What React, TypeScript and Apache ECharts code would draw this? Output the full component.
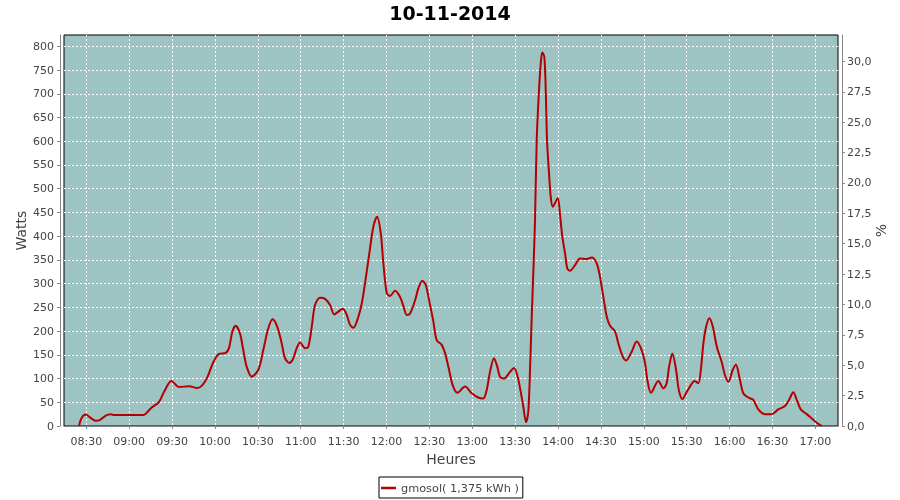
import React, { useEffect, useRef } from "react";
import * as echarts from "echarts";

const chartTitle = "10-11-2014";
const seriesName = "gmosol( 1,375 kWh )";
const xAxisName = "Heures";
const leftAxisName = "Watts";
const rightAxisName = "%";

const xTickLabels = [
  "08:30", "09:00", "09:30", "10:00", "10:30", "11:00", "11:30", "12:00", "12:30",
  "13:00", "13:30", "14:00", "14:30", "15:00", "15:30", "16:00", "16:30", "17:00",
];
const leftTicks = [0, 50, 100, 150, 200, 250, 300, 350, 400, 450, 500, 550, 600, 650, 700, 750, 800];
const rightTicks = [0, 2.5, 5, 7.5, 10, 12.5, 15, 17.5, 20, 22.5, 25, 27.5, 30];

const xRange = ["08:14:23", "17:15:52"];
const leftMax = 823.9;
const rightMax = 32.17;

const times = [
  "08:24:54", "08:26:30", "08:29:36", "08:32:36", "08:36:36", "08:39:36", "08:43:36", "08:47:00",
  "08:49:24", "09:09:42", "09:15:00", "09:20:54", "09:24:24", "09:29:30", "09:34:54", "09:41:54",
  "09:47:42", "09:51:12", "09:54:42", "09:58:54", "10:02:48", "10:07:30", "10:09:48", "10:12:12",
  "10:14:30", "10:17:30", "10:19:48", "10:22:12", "10:25:42", "10:30:18", "10:33:48", "10:37:18",
  "10:40:24", "10:43:36", "10:46:42", "10:49:00", "10:52:00", "10:54:24", "10:57:12", "10:59:30",
  "11:03:00", "11:05:18", "11:07:42", "11:10:00", "11:13:30", "11:17:00", "11:20:30", "11:23:30",
  "11:26:18", "11:29:24", "11:32:12", "11:34:30", "11:36:48", "11:40:18", "11:42:42", "11:45:00",
  "11:48:00", "11:50:48", "11:53:24", "11:56:00", "11:57:48", "12:00:12", "12:02:30", "12:06:00",
  "12:09:30", "12:11:48", "12:14:12", "12:16:30", "12:20:00", "12:22:18", "12:25:06", "12:27:30",
  "12:30:00", "12:32:48", "12:35:06", "12:38:36", "12:41:00", "12:43:18", "12:46:18", "12:49:36",
  "12:54:54", "12:59:36", "13:04:12", "13:07:42", "13:10:06", "13:12:24", "13:15:12", "13:17:30",
  "13:19:24", "13:22:12", "13:26:24", "13:29:12", "13:31:30", "13:33:54", "13:35:42", "13:37:36",
  "13:39:12", "13:40:24", "13:41:36", "13:42:42", "13:43:54", "13:45:06", "13:46:42", "13:48:06",
  "13:49:00", "13:50:24", "13:51:24", "13:52:18", "13:53:42", "13:54:54", "13:56:18", "13:59:48",
  "14:01:24", "14:03:00", "14:04:54", "14:06:30", "14:08:24", "14:11:54", "14:15:24", "14:20:00",
  "14:23:36", "14:26:36", "14:28:54", "14:31:42", "14:34:06", "14:36:24", "14:39:54", "14:42:12",
  "14:45:18", "14:47:36", "14:51:36", "14:55:00", "14:58:30", "15:00:54", "15:02:30", "15:05:00",
  "15:10:12", "15:13:42", "15:16:00", "15:17:42", "15:20:00", "15:22:36", "15:24:30", "15:27:00",
  "15:30:06", "15:32:54", "15:35:24", "15:38:12", "15:39:54", "15:41:42", "15:43:36", "15:45:54",
  "15:48:18", "15:51:06", "15:54:30", "15:56:48", "15:59:12", "16:02:12", "16:04:30", "16:06:48",
  "16:09:36", "16:13:06", "16:16:36", "16:20:06", "16:24:48", "16:29:30", "16:34:06", "16:38:48",
  "16:41:36", "16:44:36", "16:47:00", "16:49:48", "16:54:00", "16:57:30", "17:01:00", "17:04:30",
];

const watts = [
  0, 16, 24, 18, 11, 13, 22, 25,
  23, 23, 37, 51, 72, 95, 82, 84,
  80, 86, 103, 135, 152, 154, 164, 199,
  211, 195, 160, 125, 104, 118, 160, 206,
  225, 209, 174, 143, 133, 140, 164, 176,
  164, 167, 209, 255, 270, 268, 255, 235,
  241, 247, 234, 213, 207, 230, 258, 301,
  364, 420, 441, 406, 343, 280, 274, 285,
  272, 253, 234, 237, 265, 290, 306, 297,
  262, 220, 181, 171, 153, 125, 86, 70,
  83, 69, 60, 58, 76, 114, 143, 125,
  104, 100, 114, 122, 107, 72, 41, 8,
  30, 118, 230, 322, 434, 603, 708, 771,
  787, 778, 708, 603, 532, 483, 462, 480,
  445, 399, 364, 332, 327, 339, 353, 352,
  355, 346, 322, 272, 230, 211, 199, 174,
  146, 138, 157, 178, 160, 132, 97, 70,
  95, 79, 90, 125, 153, 118, 76, 57,
  72, 86, 95, 90, 118, 174, 209, 227,
  209, 167, 135, 107, 93, 118, 129, 104,
  69, 60, 55, 35, 25, 25, 35, 42,
  55, 71, 55, 35, 25, 16, 7, 0,
];

const toMin = (s: string) => {
  const p = s.split(":").map(Number);
  return p[0] * 60 + p[1] + (p[2] || 0) / 60;
};
const fmtMin = (v: number) => {
  const m = Math.round(v);
  const h = Math.floor(m / 60);
  const mm = m % 60;
  return (h < 10 ? "0" : "") + h + ":" + (mm < 10 ? "0" : "") + mm;
};

const FONT = "DejaVu Sans";
const AXIS_GRAY = "#888888";
const LABEL = "#444444";

export default function App() {
  const ref = useRef<HTMLDivElement>(null);
  useEffect(() => {
    if (!ref.current) return;
    const chart = echarts.init(ref.current, undefined, { renderer: "svg" });
    const xTicks = xTickLabels.map(toMin);
    const data = times.map((t, i) => [toMin(t), watts[i]]);
    const gridLine = { show: true, lineStyle: { color: "#ffffff", type: [2, 2] as any, width: 1 } };
    chart.setOption({
      animation: false,
      textStyle: { fontFamily: FONT },
      title: {
        text: chartTitle,
        left: "center",
        top: 3,
        padding: 0,
        textStyle: { fontSize: 19, fontWeight: "bold", color: "#000", fontFamily: FONT },
      },
      legend: {
        left: 379,
        top: 477,
        padding: [4, 4, 3, 2],
        borderColor: "#000",
        borderWidth: 1,
        borderRadius: 0,
        backgroundColor: "#fff",
        icon: "rect",
        itemWidth: 15,
        itemHeight: 2.5,
        textStyle: { fontSize: 11.3, color: LABEL, fontFamily: FONT, lineHeight: 14 },
        data: [seriesName],
      },
      grid: {
        left: 64,
        right: 62,
        top: 35,
        bottom: 74,
        show: true,
        backgroundColor: "#9dc3c2",
        borderColor: "#000",
        borderWidth: 1,
        containLabel: false,
        outerBoundsMode: "none",
      },
      xAxis: {
        type: "value",
        min: toMin(xRange[0]),
        max: toMin(xRange[1]),
        offset: 4,
        name: xAxisName,
        nameLocation: "middle",
        nameGap: 22,
        nameMoveOverlap: false,
        nameTextStyle: { fontSize: 14, color: LABEL, fontFamily: FONT },
        axisLine: { show: true, lineStyle: { color: AXIS_GRAY } },
        axisTick: { show: true, length: 3, customValues: xTicks, lineStyle: { color: AXIS_GRAY } },
        axisLabel: {
          customValues: xTicks,
          formatter: (v: number) => fmtMin(v),
          fontSize: 11,
          color: LABEL,
          margin: 6,
          fontFamily: FONT,
        },
        splitLine: gridLine,
      },
      yAxis: [
        {
          type: "value",
          min: 0,
          max: leftMax,
          offset: 4,
          position: "left",
          name: leftAxisName,
          nameLocation: "middle",
          nameRotate: 90,
          nameGap: 32,
          nameMoveOverlap: false,
          nameTextStyle: { fontSize: 14, color: LABEL, fontFamily: FONT },
          axisLine: { show: true, lineStyle: { color: AXIS_GRAY } },
          axisTick: { show: true, length: 3, customValues: leftTicks, lineStyle: { color: AXIS_GRAY } },
          axisLabel: { customValues: leftTicks, fontSize: 11, color: LABEL, margin: 6, fontFamily: FONT },
          splitLine: gridLine,
        },
        {
          type: "value",
          min: 0,
          max: rightMax,
          offset: 4,
          position: "right",
          name: rightAxisName,
          nameLocation: "middle",
          nameRotate: 90,
          nameGap: 32,
          nameMoveOverlap: false,
          nameTextStyle: { fontSize: 14, color: LABEL, fontFamily: FONT },
          axisLine: { show: true, lineStyle: { color: AXIS_GRAY } },
          axisTick: { show: true, length: 3, customValues: rightTicks, lineStyle: { color: AXIS_GRAY } },
          axisLabel: {
            customValues: rightTicks,
            formatter: (v: number) => v.toFixed(1).replace(".", ","),
            fontSize: 11,
            color: LABEL,
            margin: 5,
            fontFamily: FONT,
          },
          splitLine: { show: false },
        },
      ],
      series: [
        {
          name: seriesName,
          type: "line",
          data,
          yAxisIndex: 0,
          smooth: 0.3,
          symbol: "none",
          showSymbol: false,
          lineStyle: { color: "#b40000", width: 2 },
          itemStyle: { color: "#b40000" },
        },
      ],
    });
    return () => chart.dispose();
  }, []);
  return <div ref={ref} style={{ position: "fixed", left: 0, top: 0, width: 900, height: 500 }} />;
}
